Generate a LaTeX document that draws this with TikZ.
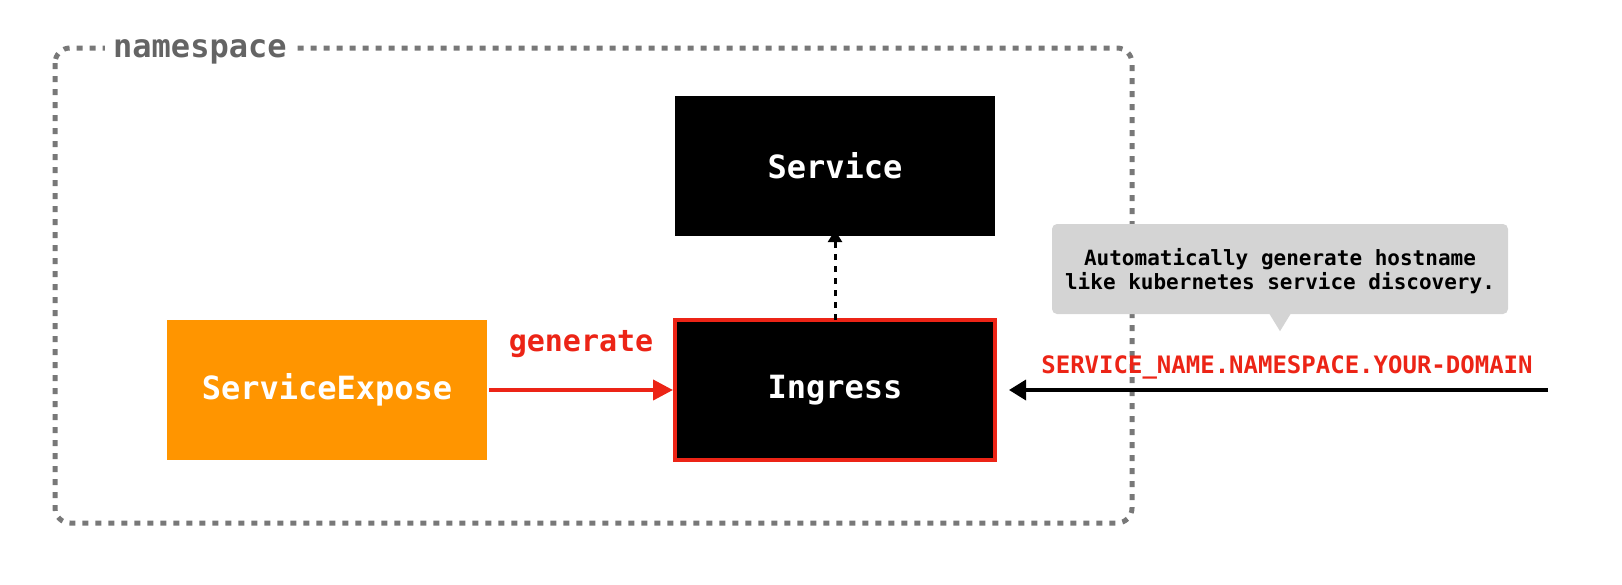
\documentclass[tikz,border=0pt]{standalone}
\usepackage{fontspec}
\setmonofont{DejaVu Sans Mono}
\usepackage{xcolor}
\usetikzlibrary{arrows.meta,positioning,calc}
\definecolor{nsgray}{RGB}{120,120,120}
\definecolor{labgray}{RGB}{100,100,100}
\definecolor{tipgray}{RGB}{212,212,212}
\definecolor{expo}{RGB}{255,149,0}
\definecolor{genred}{RGB}{236,36,22}

\begin{document}
\begin{tikzpicture}[
    x=1pt, y=-1pt,
    font=\ttfamily\bfseries,
    box/.style={
        fill=black,
        text=white,
        minimum width=320pt,
        minimum height=140pt,
        inner sep=0pt,
        font=\ttfamily\bfseries\fontsize{32}{36}\selectfont
    },
    orangebox/.style={
        box,
        fill=expo
    },
    note/.style={
        fill=tipgray,
        rounded corners=5pt,
        minimum width=456pt,
        minimum height=90pt,
        align=center,
        inner sep=0pt,
        font=\ttfamily\bfseries\fontsize{21}{24}\selectfont
    },
    redlab/.style={
        text=genred,
        inner sep=0pt
    },
    arr/.style={-{Triangle[length=20pt,width=20pt]}, line width=4pt}
]
\useasboundingbox (0,0) rectangle (1622,584);

% namespace frame
\draw[nsgray, line width=5pt, dash pattern=on 6pt off 7pt, rounded corners=15pt]
    (55,48) rectangle (1132,523);
\node[fill=white, text=labgray, inner xsep=8pt, inner ysep=3pt, anchor=base west,
      font=\ttfamily\bfseries\fontsize{32}{36}\selectfont] (ns) at (105,57) {namespace};

% boxes
\node[box] (svc) at (835,166) {Service};
\node[box, draw=genred, line width=4pt] (ing) at (835,390) {Ingress};
\node[orangebox] (expose) at (327,390) {ServiceExpose};

% tooltip
\node[note] (tip) at (1280,269)
{\rule{0pt}{22pt}Automatically generate hostname\\like kubernetes service discovery.};
\fill[tipgray] ($(tip.south)+(-11,-1)$) -- ++(22,0) -- ($(tip.south)+(0,17)$) -- cycle;

% labels
\node[redlab, font=\ttfamily\bfseries\fontsize{30}{34}\selectfont] (gen) at (581,344) {generate};
\node[redlab, font=\ttfamily\bfseries\fontsize{24}{28}\selectfont] (host) at (1287,367) {SERVICE\_NAME.NAMESPACE.YOUR-DOMAIN};
\coordinate (outside) at (1548,390);

% arrows
\draw[arr, genred] ([xshift=2pt]expose.east) -- (ing.west);
\draw[-{Triangle[length=12pt,width=14pt]}, line width=3pt, dash pattern=on 6pt off 6pt]
    ([yshift=-2pt]ing.north) -- ([yshift=6pt]svc.south);
\draw[-{Triangle[length=17pt,width=20pt]}, line width=3.5pt] (outside) -- ([xshift=12pt]ing.east);

\end{tikzpicture}
\end{document}
